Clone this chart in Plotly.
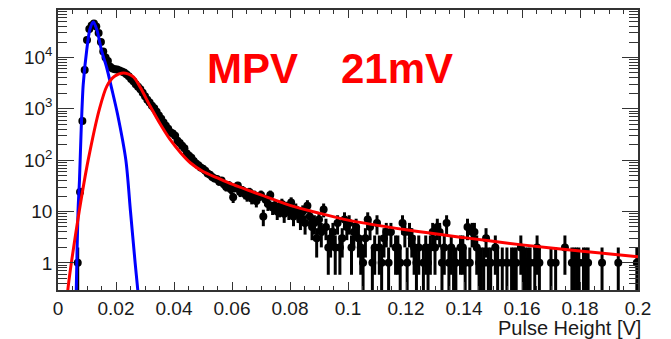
import math
import plotly.graph_objects as go

# ---------------- data ----------------
X_MIN, X_MAX, N_BINS = 0.0, 0.2, 250          # histogram binning (bin width 0.0008 V)

counts = [
    0, 0, 0, 0, 0, 0, 0, 0, 1, 24,
    580, 5700, 22000, 36000, 42000, 46000, 40000, 30000, 20000, 13000,
    10000, 8500, 6600, 6100, 5900, 5800, 5600, 5300, 5100, 4700,
    4300, 3800, 3450, 3000, 2700, 2400, 2050, 1750, 1500, 1320,
    1150, 1030, 880, 740, 640, 540, 470, 410, 350, 330,
    300, 240, 215, 190, 170, 135, 122, 112, 96, 86,
    80, 72, 68, 62, 55, 52, 47, 44, 43, 38,
    40, 34, 30, 33, 27, 19, 29, 32, 24, 26,
    22, 20, 24, 18, 21, 16, 19, 21, 8, 17,
    14, 21, 12, 13, 10, 11, 14, 9, 12, 10,
    15, 8, 11, 9, 7, 10, 6, 13, 8, 5,
    6, 3, 7, 4, 11, 5, 2, 3, 4, 2,
    6, 2, 3, 7, 5, 6, 2, 4, 5, 3,
    2, 1, 3, 7, 5, 1, 2, 6, 2, 1,
    3, 4, 1, 4, 0, 2, 2, 1, 6, 4,
    1, 4, 3, 2, 1, 2, 0, 1, 2, 1,
    2, 4, 2, 5, 4, 1, 2, 6, 1, 2,
    1, 1, 0, 2, 2, 1, 5, 1, 4, 4,
    2, 1, 1, 1, 3, 1, 1, 0, 2, 1,
    0, 1, 0, 1, 0, 1, 1, 1, 0, 2,
    1, 1, 1, 1, 0, 1, 2, 1, 0, 0,
    0, 0, 1, 0, 1, 0, 0, 0, 2, 0,
    0, 1, 1, 1, 1, 0, 1, 1, 1, 0,
    0, 0, 0, 0, 1, 0, 0, 0, 0, 0,
    0, 1, 0, 0, 0, 0, 0, 0, 0, 1,
]

# Gaussian (pedestal) fit curve
gaus_x = [0.0060, 0.0063, 0.0069, 0.0074, 0.0080, 0.0087, 0.0099, 0.0110, 0.0122,
          0.0135, 0.0150, 0.0168, 0.0185, 0.0205, 0.0234, 0.0250, 0.0266, 0.0275, 0.0282]
gaus_y = [0.05, 0.3, 10, 40, 400, 3000, 13800, 35500, 49000,
          33000, 13800, 6300, 2500, 800, 100, 10, 1.0, 0.3, 0.1]

# Landau fit curve
landau_x = [0.0028, 0.0034, 0.0046, 0.0073, 0.0104, 0.0143, 0.0169, 0.0195, 0.0226,
            0.0260, 0.0284, 0.0318, 0.0353, 0.0387, 0.0422, 0.0456, 0.050, 0.055,
            0.060, 0.070, 0.080, 0.090, 0.100, 0.120, 0.140, 0.160, 0.180, 0.200]
landau_y = [0.12, 0.3, 1.0, 10, 100, 1000, 2800, 4300, 5000,
            4200, 2600, 1120, 500, 250, 141, 89, 60, 45,
            34, 21, 13.2, 9.3, 6.8, 4.4, 3.1, 2.24, 1.70, 1.32]

x_tick_vals = [0, 0.02, 0.04, 0.06, 0.08, 0.1, 0.12, 0.14, 0.16, 0.18, 0.2]
x_tick_text = ["0", "0.02", "0.04", "0.06", "0.08", "0.1", "0.12", "0.14", "0.16", "0.18", "0.2"]
y_tick_vals = [1, 10, 100, 1000, 10000]
y_tick_text = ["1", "10", "10<sup>2</sup>", "10<sup>3</sup>", "10<sup>4</sup>"]

# ---------------- figure ----------------
bin_w = (X_MAX - X_MIN) / N_BINS
pts_x, pts_y, pts_e = [], [], []
for k, n in enumerate(counts):
    if n > 0:
        pts_x.append(X_MIN + (k + 0.5) * bin_w)
        pts_y.append(n)
        pts_e.append(math.sqrt(n))

FONT = "Liberation Sans, Arial, Helvetica, sans-serif"
AXC = "#333333"

fig = go.Figure()
fig.add_trace(go.Scatter(
    x=pts_x, y=pts_y, mode="markers",
    marker=dict(color="black", size=8, symbol="circle"),
    error_y=dict(type="data", array=pts_e, visible=True, color="black",
                 thickness=3, width=0),
    showlegend=False, hoverinfo="skip"))
fig.add_trace(go.Scatter(
    x=gaus_x, y=gaus_y, mode="lines",
    line=dict(color="#0000ff", width=3, shape="spline", smoothing=0.8),
    showlegend=False, hoverinfo="skip"))
fig.add_trace(go.Scatter(
    x=landau_x, y=landau_y, mode="lines",
    line=dict(color="#ff0000", width=3, shape="spline", smoothing=0.8),
    showlegend=False, hoverinfo="skip"))

minor_y = [m * 10 ** e for e in range(-1, 5) for m in range(2, 10)]

fig.update_layout(
    width=671, height=339,
    margin=dict(l=58, r=33, t=8, b=49),
    paper_bgcolor="white", plot_bgcolor="white",
    font=dict(family=FONT, size=19, color="#1a1a1a"),
    xaxis=dict(
        range=[X_MIN, X_MAX], showgrid=False, zeroline=False,
        showline=True, linecolor=AXC, linewidth=1.5, mirror="allticks",
        ticks="inside", ticklen=8, tickwidth=1.2, tickcolor=AXC,
        tickmode="array", tickvals=x_tick_vals, ticktext=x_tick_text,
        minor=dict(ticks="inside", ticklen=4, tickwidth=1.2, tickcolor=AXC,
                   dtick=0.005, tick0=0, showgrid=False),
    ),
    yaxis=dict(
        type="log", range=[math.log10(0.296), math.log10(84000)],
        showgrid=False, zeroline=False,
        showline=True, linecolor=AXC, linewidth=1.5, mirror="allticks",
        ticks="inside", ticklen=16, tickwidth=1.2, tickcolor=AXC,
        tickmode="array", tickvals=y_tick_vals, ticktext=y_tick_text,
        minor=dict(ticks="inside", ticklen=9, tickwidth=1.2, tickcolor=AXC,
                   tickmode="array", tickvals=minor_y, showgrid=False),
    ),
    annotations=[
        dict(text="Pulse Height [V]", xref="paper", yref="paper",
             x=(643 - 58) / 580, y=(290 - 328) / 282, xanchor="right", yanchor="middle",
             showarrow=False, font=dict(family=FONT, size=20, color="#1a1a1a")),
        dict(text="<b>MPV</b>", xref="paper", yref="paper",
             x=(205 - 58) / 580, y=(290 - 67) / 282, xanchor="left", yanchor="middle",
             showarrow=False, font=dict(family=FONT, size=42, color="#ff0000")),
        dict(text="<b>21mV</b>", xref="paper", yref="paper",
             x=(339 - 58) / 580, y=(290 - 67) / 282, xanchor="left", yanchor="middle",
             showarrow=False, font=dict(family=FONT, size=42, color="#ff0000")),
    ],
)

fig.write_html("out.html")
